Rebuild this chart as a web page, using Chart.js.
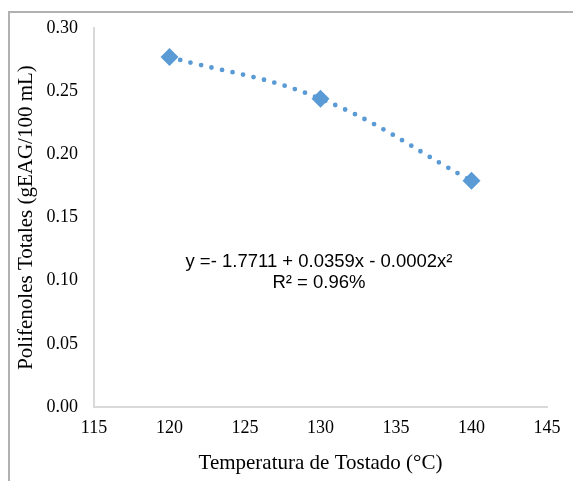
<!DOCTYPE html>
<html>
<head>
<meta charset="utf-8">
<script src="https://cdn.jsdelivr.net/npm/chart.js@4.4.1/dist/chart.umd.min.js"></script>
<style>
  html, body { margin: 0; padding: 0; background: #fff; }
  #wrap { position: relative; width: 573px; height: 481px; overflow: hidden; }
  #frame { position: absolute; left: 8px; top: 11px; width: 600px; height: 500px;
           border-left: 2px solid #b3b0b0; border-top: 2px solid #b3b0b0; }
  canvas { position: absolute; left: 0; top: 0; }
</style>
</head>
<body>
<div id="wrap">
  <div id="frame"></div>
  <canvas id="chart" width="573" height="481"></canvas>
</div>
<script>
// data
const temperatures = [120, 130, 140];
const polyphenols = [0.277, 0.244, 0.179];
const xTicks = [115, 120, 125, 130, 135, 140, 145];
const yTicks = [0, 0.05, 0.10, 0.15, 0.20, 0.25, 0.30];
const equationLines = ['y =- 1.7711 + 0.0359x - 0.0002x\u00B2', 'R\u00B2 = 0.96%'];

const blue = '#5b9bd5';
const axisGray = '#d9d9d9';
const serif = '"Liberation Serif", "Times New Roman", serif';

const points = temperatures.map((t, i) => ({ x: t, y: polyphenols[i] }));

// equation label in the middle of the plot
const equationPlugin = {
    id: 'equation',
    afterDatasetsDraw(chart) {
        const ctx = chart.ctx;
        const xs = chart.scales.x, ys = chart.scales.y;
        ctx.save();
        ctx.fillStyle = '#000';
        ctx.font = '18.5px "Liberation Sans", Arial, sans-serif';
        ctx.textAlign = 'center';
        ctx.textBaseline = 'middle';
        const cx = xs.getPixelForValue(129.9);
        const y0 = ys.getPixelForValue(0.115);
        equationLines.forEach((line, i) => ctx.fillText(line, cx, y0 + i * 21));
        ctx.restore();
    }
};

new Chart(document.getElementById('chart'), {
    type: 'scatter',
    data: {
        datasets: [
            {
                // trendline through the points
                type: 'line',
                data: points,
                showLine: true,
                borderColor: blue,
                borderWidth: 4.8,
                borderCapStyle: 'round',
                borderDash: [0, 10.8],
                tension: 0.4,
                pointRadius: 0,
                fill: false,
                order: 2
            },
            {
                data: points,
                pointStyle: 'rectRot',
                pointRadius: 9,
                backgroundColor: blue,
                borderColor: blue,
                borderWidth: 0,
                order: 1
            }
        ]
    },
    options: {
        responsive: false,
        animation: false,
        layout: { padding: { left: 0, top: 28, right: 26, bottom: 0 } },
        plugins: { legend: { display: false }, tooltip: { enabled: false } },
        scales: {
            x: {
                type: 'linear',
                min: 115,
                max: 145,
                afterBuildTicks: s => { s.ticks = xTicks.map(v => ({ value: v })); },
                afterFit: s => { s.height = 74; },
                grid: { drawOnChartArea: false, drawTicks: false },
                border: { color: axisGray, width: 2 },
                ticks: { color: '#000', font: { family: serif, size: 18 }, padding: 10, maxRotation: 0 },
                title: {
                    display: true,
                    text: 'Temperatura de Tostado (°C)',
                    color: '#000',
                    font: { family: serif, size: 21 },
                    padding: { top: 0, bottom: 5 }
                }
            },
            y: {
                min: 0,
                max: 0.3,
                afterBuildTicks: s => { s.ticks = yTicks.map(v => ({ value: v })); },
                afterFit: s => { s.width = 94; },
                grid: { drawOnChartArea: false, drawTicks: false },
                border: { color: axisGray, width: 2 },
                ticks: {
                    color: '#000',
                    font: { family: serif, size: 18 },
                    padding: 16,
                    callback: v => v.toFixed(2)
                },
                title: {
                    display: true,
                    text: 'Polifenoles Totales (gEAG/100 mL)',
                    color: '#000',
                    font: { family: serif, size: 21 },
                    padding: { top: 14, bottom: 0 }
                }
            }
        }
    },
    plugins: [equationPlugin]
});
</script>
</body>
</html>
